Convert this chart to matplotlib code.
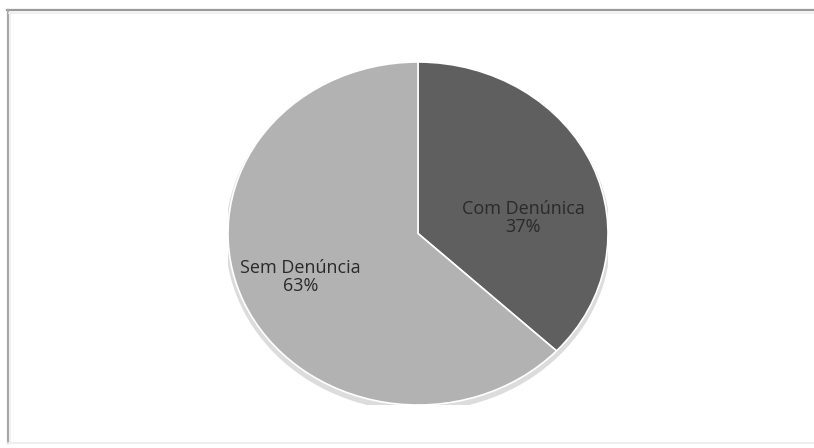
import matplotlib.pyplot as plt
from matplotlib.patches import Ellipse
from matplotlib.lines import Line2D

categorias = ["Com Denúnica", "Sem Denúncia"]
valores = [37, 63]
cores = ["#5f5f5f", "#b2b2b2"]

W, H = 814, 448
fig = plt.figure(figsize=(W / 100, H / 100), dpi=100)
fig.patch.set_facecolor("white")

def linha_px(x0, y0, x1, y1, cor, lw):
    fig.lines.append(Line2D([x0 / W, x1 / W], [1 - y0 / H, 1 - y1 / H],
                            transform=fig.transFigure, color=cor, linewidth=lw))

# moldura do gráfico (aberta à direita)
linha_px(7, 10.5, 814, 10.5, "#9a9a9a", 1.6)
linha_px(7.5, 10, 7.5, 443, "#a8a8a8", 1.6)
linha_px(9, 13, 814, 13, "#efefef", 1.2)
linha_px(10, 13, 10, 441, "#efefef", 1.2)
linha_px(8, 443, 814, 443, "#ececec", 1.2)

# área da pizza: elipse levemente achatada (x 228-608, y 62-405)
ax = fig.add_axes([228 / W, 1 - 405 / H, 380 / W, 343 / H])

# sombra suave embaixo
ax.add_patch(Ellipse((0, -0.022), 2.02, 2.02, color="#dcdcdc", zorder=0))

ax.pie(valores, colors=cores, startangle=90, counterclock=False,
       wedgeprops=dict(edgecolor="white", linewidth=1.2))
ax.set_aspect("auto")
ax.set_xlim(-1, 1)
ax.set_ylim(-1, 1)
ax.axis("off")

total = sum(valores)
posicoes = [(0.553, 0.09), (-0.62, -0.254)]
for nome, v, (x, y) in zip(categorias, valores, posicoes):
    ax.text(x, y, f"{nome}\n{round(100 * v / total)}%", ha="center", va="center",
            fontsize=13, color="#2a2a2a", family="Open Sans", linespacing=1.0)

fig.savefig("out.png", dpi=100)
